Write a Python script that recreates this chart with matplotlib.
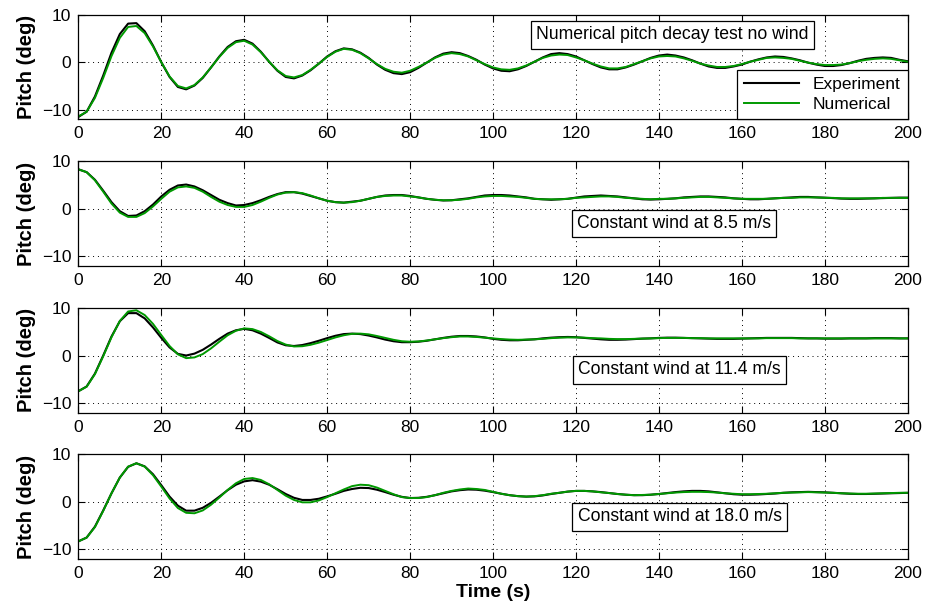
import numpy as np
import matplotlib
matplotlib.use("Agg")
import matplotlib.pyplot as plt

plt.rcParams['font.family'] = ['Liberation Sans', 'DejaVu Sans']

# === Time axis (s), one reading every 2 s ===
time = np.arange(0, 201, 2)

# === Pitch readings (deg) ===
exp_nowind = [-11.5, -10.4, -7.2, -2.8, 2.0, 5.9, 8.1,
              8.2, 6.5, 3.5, 0.0, -3.1, -5.2,
              -5.7, -4.9, -3.3, -1.1, 1.2, 3.2, 4.4,
              4.7, 3.9, 2.2, 0.1, -1.8, -3.1,
              -3.4, -2.8, -1.7, -0.3, 1.2, 2.3, 2.9,
              2.7, 2.0, 0.9, -0.5, -1.6, -2.3,
              -2.5, -2.1, -1.2, -0.1, 1.0, 1.8, 2.1,
              1.9, 1.3, 0.5, -0.5, -1.3, -1.8,
              -1.9, -1.5, -0.8, 0.1, 1.0, 1.7, 1.9,
              1.7, 1.2, 0.4, -0.4, -1.1, -1.5,
              -1.5, -1.1, -0.5, 0.2, 0.9, 1.4, 1.6,
              1.4, 1.0, 0.4, -0.3, -0.9, -1.2,
              -1.2, -0.9, -0.5, 0.1, 0.6, 1.0, 1.2,
              1.1, 0.8, 0.4, -0.1, -0.5, -0.8,
              -0.8, -0.6, -0.2, 0.3, 0.7, 0.9,
              1.0, 0.9, 0.5, 0.2]
num_nowind = [-11.4, -10.4, -7.5, -3.3, 1.3, 5.1, 7.4,
              7.6, 6.1, 3.3, 0.0, -3.0, -5.0,
              -5.5, -4.8, -3.2, -1.1, 1.1, 3.0, 4.2,
              4.5, 3.7, 2.1, 0.1, -1.7, -2.9,
              -3.2, -2.7, -1.6, -0.3, 1.1, 2.2, 2.8,
              2.6, 1.9, 0.8, -0.4, -1.4, -2.0,
              -2.2, -1.8, -1.0, -0.1, 0.9, 1.6, 1.9,
              1.7, 1.2, 0.4, -0.4, -1.1, -1.5,
              -1.6, -1.3, -0.7, 0.1, 0.9, 1.4, 1.6,
              1.5, 1.0, 0.4, -0.3, -0.9, -1.3,
              -1.3, -1.0, -0.4, 0.2, 0.8, 1.2, 1.3,
              1.2, 0.8, 0.3, -0.3, -0.7, -1.0,
              -1.0, -0.8, -0.4, 0.1, 0.5, 0.9, 1.0,
              0.9, 0.7, 0.3, -0.1, -0.4, -0.6,
              -0.6, -0.5, -0.2, 0.2, 0.5, 0.7,
              0.8, 0.7, 0.4, 0.1]

exp_85 = [8.3, 7.7, 6.1, 3.8, 1.4, -0.5, -1.5,
          -1.4, -0.5, 0.9, 2.6, 4.0, 4.9,
          5.1, 4.7, 3.9, 2.9, 1.9, 1.2, 0.7,
          0.8, 1.2, 1.8, 2.5, 3.1, 3.5,
          3.5, 3.2, 2.7, 2.2, 1.7, 1.4,
          1.3, 1.5, 1.7, 2.1, 2.5, 2.8, 2.9,
          2.9, 2.7, 2.4, 2.1, 1.9, 1.75,
          1.8, 2.0, 2.2, 2.5, 2.8, 2.9,
          2.9, 2.8, 2.6, 2.4, 2.1, 2.0, 1.9,
          2.0, 2.1, 2.35, 2.6, 2.7, 2.8,
          2.7, 2.6, 2.4, 2.2, 2.0, 1.95,
          2.0, 2.1, 2.2, 2.4, 2.5, 2.6,
          2.6, 2.5, 2.4, 2.2, 2.1, 2.0,
          2.0, 2.1, 2.2, 2.3, 2.4, 2.5,
          2.5, 2.4, 2.35, 2.25, 2.15, 2.1,
          2.1, 2.15, 2.2, 2.25, 2.3, 2.35, 2.35]
num_85 = [8.3, 7.7, 6.0, 3.6, 1.1, -0.8, -1.7,
          -1.7, -0.9, 0.5, 2.1, 3.6, 4.5,
          4.7, 4.4, 3.6, 2.5, 1.5, 0.8, 0.4,
          0.4, 0.8, 1.5, 2.3, 3.0, 3.4,
          3.5, 3.3, 2.8, 2.2, 1.7, 1.4,
          1.3, 1.4, 1.7, 2.1, 2.5, 2.7, 2.8,
          2.8, 2.6, 2.4, 2.1, 1.9, 1.8,
          1.8, 1.9, 2.1, 2.4, 2.6, 2.7,
          2.7, 2.6, 2.5, 2.3, 2.1, 2.0, 2.0,
          2.0, 2.1, 2.3, 2.4, 2.5, 2.6,
          2.6, 2.5, 2.3, 2.2, 2.1, 2.0,
          2.1, 2.1, 2.2, 2.3, 2.4, 2.5,
          2.5, 2.4, 2.3, 2.2, 2.1, 2.1,
          2.1, 2.1, 2.2, 2.3, 2.3, 2.4,
          2.4, 2.4, 2.3, 2.3, 2.2, 2.2,
          2.2, 2.2, 2.2, 2.3, 2.3, 2.3, 2.3]

exp_114 = [-7.5, -6.5, -3.8, 0.0, 4.0, 7.2, 8.9,
           8.9, 7.8, 5.9, 3.7, 1.7, 0.35,
           0.0, 0.4, 1.2, 2.3, 3.5, 4.6, 5.3,
           5.6, 5.3, 4.6, 3.7, 2.75, 2.15,
           2.0, 2.2, 2.6, 3.1, 3.65, 4.15, 4.5,
           4.6, 4.5, 4.2, 3.8, 3.35, 3.0, 2.8,
           2.8, 2.9, 3.1, 3.4, 3.7, 3.95, 4.1,
           4.1, 4.0, 3.8, 3.5, 3.3, 3.2,
           3.2, 3.3, 3.4, 3.6, 3.75, 3.85, 3.9,
           3.85, 3.7, 3.55, 3.4, 3.3,
           3.3, 3.35, 3.45, 3.55, 3.6, 3.7, 3.75,
           3.75, 3.7, 3.65, 3.6, 3.55, 3.5,
           3.5, 3.5, 3.55, 3.6, 3.65, 3.7, 3.7,
           3.7, 3.7, 3.65, 3.6, 3.6, 3.55,
           3.55, 3.55, 3.6, 3.6, 3.6, 3.65, 3.65, 3.65, 3.6, 3.6]
num_114 = [-7.5, -6.55, -3.9, -0.15, 3.85, 7.25, 9.25,
           9.5, 8.5, 6.65, 4.3, 2.0, 0.25, -0.55,
           -0.4, 0.3, 1.5, 2.9, 4.25, 5.2, 5.7,
           5.55, 4.95, 4.05, 3.05, 2.3, 1.9,
           1.95, 2.25, 2.7, 3.25, 3.8, 4.25, 4.55,
           4.6, 4.45, 4.1, 3.7, 3.3, 3.0, 2.9,
           2.95, 3.15, 3.4, 3.65, 3.85, 4.0,
           4.0, 3.9, 3.75, 3.6, 3.45, 3.35, 3.3,
           3.35, 3.4, 3.5, 3.65, 3.75, 3.8,
           3.8, 3.75, 3.65, 3.6, 3.5, 3.45,
           3.45, 3.5, 3.55, 3.6, 3.65, 3.7, 3.7,
           3.7, 3.65, 3.65, 3.6, 3.6, 3.6, 3.6, 3.6,
           3.6, 3.6, 3.65, 3.65, 3.65, 3.65, 3.6, 3.6, 3.6, 3.6,
           3.6, 3.6, 3.6, 3.6, 3.6, 3.6, 3.6, 3.6, 3.6, 3.6]

exp_180 = [-8.3, -7.5, -5.2, -1.8, 1.8, 5.1, 7.35,
           8.1, 7.45, 5.8, 3.5, 1.1, -0.8, -1.85,
           -1.85, -1.25, -0.2, 1.1, 2.45, 3.6, 4.3,
           4.55, 4.25, 3.6, 2.65, 1.65, 0.85, 0.4,
           0.4, 0.65, 1.15, 1.7, 2.3, 2.7, 2.95,
           2.9, 2.55, 2.05, 1.5, 1.05, 0.8,
           0.85, 1.05, 1.4, 1.8, 2.2, 2.45, 2.6,
           2.55, 2.35, 2.05, 1.7, 1.4, 1.2, 1.1,
           1.15, 1.35, 1.65, 1.9, 2.15, 2.3,
           2.3, 2.2, 2.05, 1.85, 1.65, 1.5, 1.4,
           1.4, 1.5, 1.65, 1.85, 2.05, 2.2, 2.3,
           2.3, 2.2, 2.0, 1.8, 1.6, 1.5,
           1.5, 1.55, 1.65, 1.75, 1.9, 2.0, 2.05, 2.1,
           2.05, 2.0, 1.9, 1.8, 1.7, 1.65,
           1.65, 1.7, 1.75, 1.8, 1.85, 1.9]
num_180 = [-8.3, -7.5, -5.3, -1.9, 1.8, 5.1, 7.4,
           8.1, 7.4, 5.6, 3.2, 0.7, -1.3, -2.3,
           -2.4, -1.8, -0.6, 0.9, 2.5, 3.9, 4.8,
           5.0, 4.6, 3.7, 2.5, 1.3, 0.4, -0.1,
           -0.1, 0.3, 1.0, 1.8, 2.6, 3.3, 3.6,
           3.5, 3.0, 2.3, 1.6, 1.0, 0.8,
           0.8, 1.0, 1.4, 1.9, 2.3, 2.6, 2.8,
           2.7, 2.5, 2.1, 1.7, 1.4, 1.2, 1.1,
           1.2, 1.4, 1.7, 1.9, 2.15, 2.3,
           2.3, 2.2, 2.0, 1.85, 1.65, 1.5, 1.4,
           1.45, 1.5, 1.65, 1.8, 1.95, 2.05, 2.1,
           2.1, 2.05, 1.95, 1.8, 1.7, 1.6,
           1.6, 1.65, 1.7, 1.8, 1.9, 1.95, 2.0, 2.05,
           2.0, 1.95, 1.9, 1.8, 1.75, 1.7,
           1.7, 1.75, 1.8, 1.85, 1.9, 1.9]

labels = ["Numerical pitch decay test no wind", "Constant wind at 8.5 m/s",
          "Constant wind at 11.4 m/s", "Constant wind at 18.0 m/s"]
experiment = [exp_nowind, exp_85, exp_114, exp_180]
numerical = [num_nowind, num_85, num_114, num_180]

# box centres in axes coords
label_pos = [(0.716, 0.805), (0.718, 0.407), (0.725, 0.41), (0.725, 0.403)]
# axes bottoms (figure fraction)
bottoms = [0.805, 0.5654, 0.3257, 0.0866]

fig = plt.figure(figsize=(9.36, 6.12), dpi=100)
green = (0.0, 0.6, 0.0)

axs = []
for i in range(4):
    ax = fig.add_axes([0.0837, bottoms[i], 0.8861, 0.1712])
    ax.plot(time, experiment[i], color="black", lw=1.5, label="Experiment")
    ax.plot(time, numerical[i], color=green, lw=1.4, label="Numerical")
    ax.set_xlim(0, 200)
    ax.set_ylim(-12, 10)
    ax.set_xticks(np.arange(0, 201, 20))
    ax.set_yticks([-10, 0, 10])
    ax.grid(True, linestyle=(0, (1, 4)), color="black", linewidth=0.7)
    ax.tick_params(direction="in", top=True, right=True, length=5,
                   labelsize=12.5, pad=5)
    ax.set_ylabel("Pitch (deg)", fontsize=14.5, fontweight="bold", labelpad=4)
    for s in ax.spines.values():
        s.set_linewidth(0.9)
    ax.text(label_pos[i][0], label_pos[i][1], labels[i], transform=ax.transAxes,
            ha="center", va="center", fontsize=12.7,
            bbox=dict(boxstyle="square,pad=0.3", facecolor="white",
                      edgecolor="black", linewidth=0.9))
    axs.append(ax)

leg = axs[0].legend(loc="lower right", borderaxespad=0, fontsize=12.5,
                    fancybox=False, framealpha=1, edgecolor="black",
                    handlelength=3.2, labelspacing=0.3)
leg.get_frame().set_linewidth(0.9)

axs[3].set_xlabel("Time (s)", fontsize=14, fontweight="bold", labelpad=2)

fig.savefig("out.png", dpi=100)
